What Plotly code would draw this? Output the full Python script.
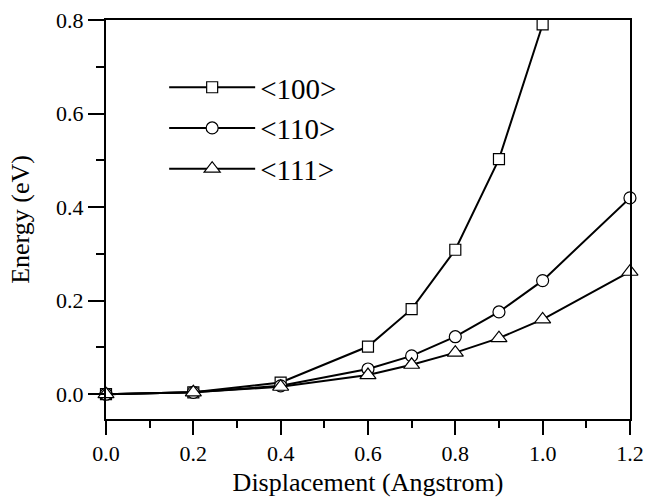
import plotly.graph_objects as go

disp_100 = [0.0, 0.2, 0.4, 0.6, 0.7, 0.8, 0.9, 1.0]
energy_100 = [0.0, 0.004, 0.025, 0.102, 0.182, 0.309, 0.503, 0.791]

disp_110 = [0.0, 0.2, 0.4, 0.6, 0.7, 0.8, 0.9, 1.0, 1.2]
energy_110 = [0.0, 0.004, 0.018, 0.054, 0.082, 0.123, 0.176, 0.243, 0.420]

disp_111 = [0.0, 0.2, 0.4, 0.6, 0.7, 0.8, 0.9, 1.0, 1.2]
energy_111 = [0.0, 0.004, 0.016, 0.041, 0.063, 0.089, 0.120, 0.160, 0.262]

x_ticks = [0.0, 0.2, 0.4, 0.6, 0.8, 1.0, 1.2]
y_ticks = [0.0, 0.2, 0.4, 0.6, 0.8]

series = [
    ("&lt;100&gt;", disp_100, energy_100, "square", 11),
    ("&lt;110&gt;", disp_110, energy_110, "circle", 12),
    ("&lt;111&gt;", disp_111, energy_111, "triangle-up", 14),
]

FONT = "Liberation Serif"

fig = go.Figure()
for name, xs, ys, sym, sz in series:
    fig.add_trace(go.Scatter(
        x=xs, y=ys, name=name, mode="lines+markers",
        line=dict(color="black", width=2),
        marker=dict(symbol=sym, size=sz, color="white",
                    line=dict(color="black", width=1.2)),
        cliponaxis=False,
    ))

fig.update_layout(
    width=647, height=502,
    margin=dict(l=106, r=17, t=20, b=83, autoexpand=False),
    paper_bgcolor="white", plot_bgcolor="white",
    font=dict(family=FONT, color="black"),
    showlegend=True,
    legend=dict(x=0.111, y=0.895, xanchor="left", yanchor="top",
                bgcolor="rgba(0,0,0,0)", borderwidth=0,
                font=dict(size=29, family=FONT), itemwidth=86,
                tracegroupgap=0),
    xaxis=dict(
        range=[0, 1.2001], tickmode="array", tickvals=x_ticks,
        ticktext=[f"{v:.1f}" for v in x_ticks],
        showgrid=False, zeroline=False, automargin=False,
        showline=True, linecolor="black", linewidth=2, mirror=True,
        ticks="outside", ticklen=14, tickwidth=2, tickcolor="black",
        ticklabelstandoff=0, ticklabeloverflow="allow",
        minor=dict(dtick=0.1, tick0=0, ticks="outside", ticklen=7, tickwidth=2, tickcolor="black", showgrid=False),
        tickfont=dict(size=22, family=FONT),
        title=dict(text="Displacement (Angstrom)", font=dict(size=26, family=FONT), standoff=7),
    ),
    yaxis=dict(
        range=[-0.053, 0.8005], tickmode="array", tickvals=y_ticks,
        ticktext=[f"{v:.1f}" for v in y_ticks],
        showgrid=False, zeroline=False, automargin=False,
        showline=True, linecolor="black", linewidth=2, mirror=True,
        ticks="outside", ticklen=16, tickwidth=2, tickcolor="black",
        ticklabeloverflow="allow",
        minor=dict(dtick=0.1, tick0=0, ticks="outside", ticklen=8, tickwidth=2, tickcolor="black", showgrid=False),
        tickfont=dict(size=22, family=FONT),
        title=dict(text="Energy (eV)", font=dict(size=26, family=FONT), standoff=19),
    ),
)

fig.write_html("out.html", config={"displayModeBar": False},
               post_script="document.body.style.margin='0';document.body.style.overflow='hidden';")
